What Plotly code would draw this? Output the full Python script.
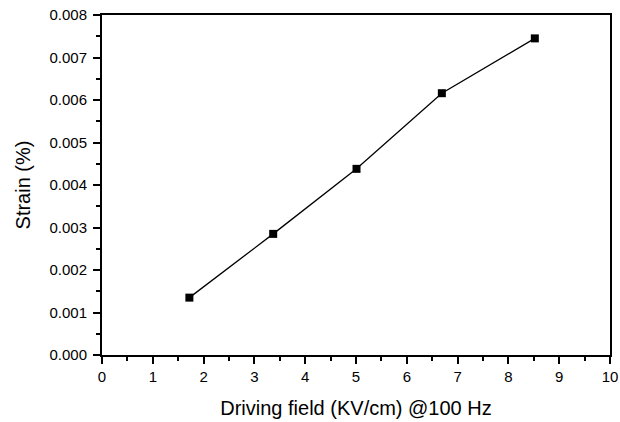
import plotly.graph_objects as go

field = [1.72, 3.37, 5.01, 6.69, 8.52]
strain = [0.00135, 0.00285, 0.00438, 0.00616, 0.00745]
x_ticks = list(range(0, 11))
y_ticks = [0.000, 0.001, 0.002, 0.003, 0.004, 0.005, 0.006, 0.007, 0.008]

fig = go.Figure()
fig.add_trace(go.Scatter(
    x=field, y=strain, mode="lines+markers",
    line=dict(color="black", width=1.3),
    marker=dict(symbol="square", size=8, color="black"),
    showlegend=False,
))

font = dict(family="Liberation Sans, Arial, sans-serif", color="black")
fig.update_layout(
    width=620, height=422,
    margin=dict(l=102, r=10, t=15, b=67),
    paper_bgcolor="white", plot_bgcolor="white",
    font=dict(**font, size=15),
)
fig.update_xaxes(
    range=[0, 10], tickvals=x_ticks, ticktext=[str(v) for v in x_ticks],
    showgrid=False, zeroline=False, automargin=False,
    showline=True, linecolor="black", linewidth=2, mirror=True,
    ticks="outside", ticklen=7, tickwidth=2, tickcolor="black",
    minor=dict(dtick=0.5, tick0=0, ticks="outside", ticklen=4, tickwidth=1.5, tickcolor="black"),
    tickfont=dict(**font, size=15),
    title=dict(text="Driving field (KV/cm) @100 Hz", font=dict(**font, size=20), standoff=17),
)
fig.update_yaxes(
    range=[0, 0.008], tickvals=y_ticks, ticktext=[f"{v:.3f}" for v in y_ticks],
    showgrid=False, zeroline=False, automargin=False,
    showline=True, linecolor="black", linewidth=2, mirror=True,
    ticks="outside", ticklen=7, tickwidth=2, tickcolor="black",
    minor=dict(dtick=0.0005, tick0=0, ticks="outside", ticklen=4, tickwidth=1.5, tickcolor="black"),
    tickfont=dict(**font, size=15), ticklabelstandoff=3,
    title=dict(text="Strain (%)", font=dict(**font, size=20), standoff=13),
)
fig.write_html("out.html")
